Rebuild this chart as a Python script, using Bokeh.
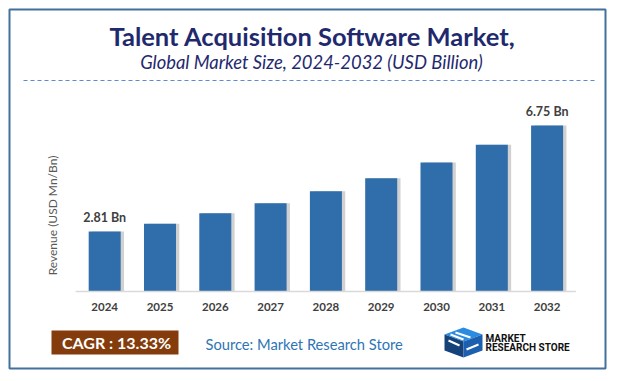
import math
from bokeh.plotting import figure
from bokeh.models import Range1d, ColumnDataSource
from bokeh.transform import dodge
from bokeh.core.properties import value
from bokeh.embed import file_html
from bokeh.resources import INLINE

# ---- data ----
years = ["2024", "2025", "2026", "2027", "2028", "2029", "2030", "2031", "2032"]
revenue = [2.81, 3.10, 3.49, 3.86, 4.31, 4.79, 5.38, 6.04, 6.75]
value_labels = ["2.81 Bn", "", "", "", "", "", "", "", "6.75 Bn"]
title_text = "Talent Acquisition Software Market,"
subtitle_text = "Global Market Size, 2024-2032 (USD Billion)"
y_label = "Revenue (USD Mn/Bn)"
cagr_text = "CAGR : 13.33%"
source_text = "Source: Market Research Store"
logo_lines = ["MARKET", "RESEARCH STORE"]

# ---- layout geometry (canvas pixels) ----
W, H = 612, 372
FIRST_CENTER_PX = 104.2
SPACING_PX = 55.3
BASE_PX = 291.0
PX_PER_UNIT = 26.9
AXIS_MIN = 0.58

FONT = "Lato"
BAR_COLOR = "#2F6EAB"
NAVY = "#1F2A6E"

p = figure(width=W, height=H, output_backend="svg", toolbar_location=None,
           x_axis_type=None, y_axis_type=None, min_border=0,
           x_range=Range1d(-FIRST_CENTER_PX / SPACING_PX, (W - FIRST_CENTER_PX) / SPACING_PX),
           y_range=Range1d(AXIS_MIN - (H - BASE_PX) / PX_PER_UNIT, AXIS_MIN + BASE_PX / PX_PER_UNIT))
p.outline_line_color = None
p.background_fill_color = "white"
p.border_fill_color = "white"
p.extra_x_ranges = {"px": Range1d(0, W)}
p.extra_y_ranges = {"px": Range1d(H, 0)}

idx = list(range(len(years)))
src = ColumnDataSource(dict(x=idx, top=revenue, lab=value_labels, year=years,
                            ty=[306] * len(years)))

# outer frame
p.quad(left=[9], right=[605], top=[9], bottom=[368], fill_color=None,
       line_color="#41719C", line_width=2, x_range_name="px", y_range_name="px")

# title & subtitle
p.text(x=[312], y=[35], text=[title_text], text_font=value(FONT), text_font_style="bold",
       text_font_size="25.5px", text_color=NAVY, text_align="center", text_baseline="middle",
       x_range_name="px", y_range_name="px")
p.text(x=[311], y=[61], text=[subtitle_text], text_font=value(FONT), text_font_style="italic",
       text_font_size="18.4px", text_color=NAVY, text_align="center", text_baseline="middle",
       x_range_name="px", y_range_name="px")
p.segment(x0=[23], y0=[80], x1=[597], y1=[80], line_color="#5B8BD0", line_width=1,
          line_dash="4 3", x_range_name="px", y_range_name="px")

# shadow + bars
p.vbar(x=dodge("x", 0.06), top="top", bottom=AXIS_MIN, width=0.579, source=src,
       fill_color="#9A9A9A", fill_alpha=0.45, line_color=None)
p.vbar(x="x", top="top", bottom=AXIS_MIN, width=0.579, source=src,
       fill_color=BAR_COLOR, line_color=None)

# baseline axis line
p.segment(x0=[-0.525], y0=[AXIS_MIN], x1=[8.52], y1=[AXIS_MIN], line_color="#D9D9D9", line_width=1.5)

# value labels
p.text(x="x", y="top", text="lab", source=src, y_offset=-14, text_font=value(FONT),
       text_font_style="bold", text_font_size="12.5px", text_color="#404040",
       text_align="center", text_baseline="middle")

# x tick labels
p.text(x="x", y="ty", text="year", source=src, y_range_name="px", text_font=value(FONT),
       text_font_style="bold", text_font_size="11.5px", text_color="#404040",
       text_align="center", text_baseline="middle")

# y axis label
p.text(x=[52], y=[215], text=[y_label], angle=math.pi / 2, text_font=value(FONT),
       text_font_size="12px", text_color="#595959", text_align="center", text_baseline="middle",
       x_range_name="px", y_range_name="px")

# footer: CAGR box
p.quad(left=[51], right=[178], top=[330], bottom=[354], fill_color="#843C0C", line_color=None,
       x_range_name="px", y_range_name="px")
p.text(x=[116], y=[342], text=[cagr_text], text_font=value(FONT), text_font_style="bold",
       text_font_size="16px", text_color="white", text_align="center", text_baseline="middle",
       x_range_name="px", y_range_name="px")
p.text(x=[205], y=[343], text=[source_text], text_font=value(FONT),
       text_font_size="14.7px", text_color="#2E75B6", text_align="left", text_baseline="middle",
       x_range_name="px", y_range_name="px")

# logo icon
p.patches(xs=[[444, 463, 482, 463], [444, 463, 463, 444], [463, 482, 482, 463]],
          ys=[[334, 327, 334, 341], [334, 341, 357, 350], [341, 334, 350, 357]],
          fill_color=["#2A8BE0", "#16427A", "#1C5FAE"], line_color=None,
          x_range_name="px", y_range_name="px")
p.segment(x0=[450, 455, 448, 466], y0=[334, 332, 340, 349], x1=[463, 470, 459, 478], y1=[339, 337, 345, 344],
          line_color="white", line_width=2, x_range_name="px", y_range_name="px")
p.text(x=[485, 485], y=[338, 347], text=logo_lines, text_font=value("Roboto"), text_font_style="bold",
       text_font_size="10px", text_color="#111111", text_align="left", text_baseline="middle",
       x_range_name="px", y_range_name="px")

open("out.html", "w").write(file_html(p, INLINE))
